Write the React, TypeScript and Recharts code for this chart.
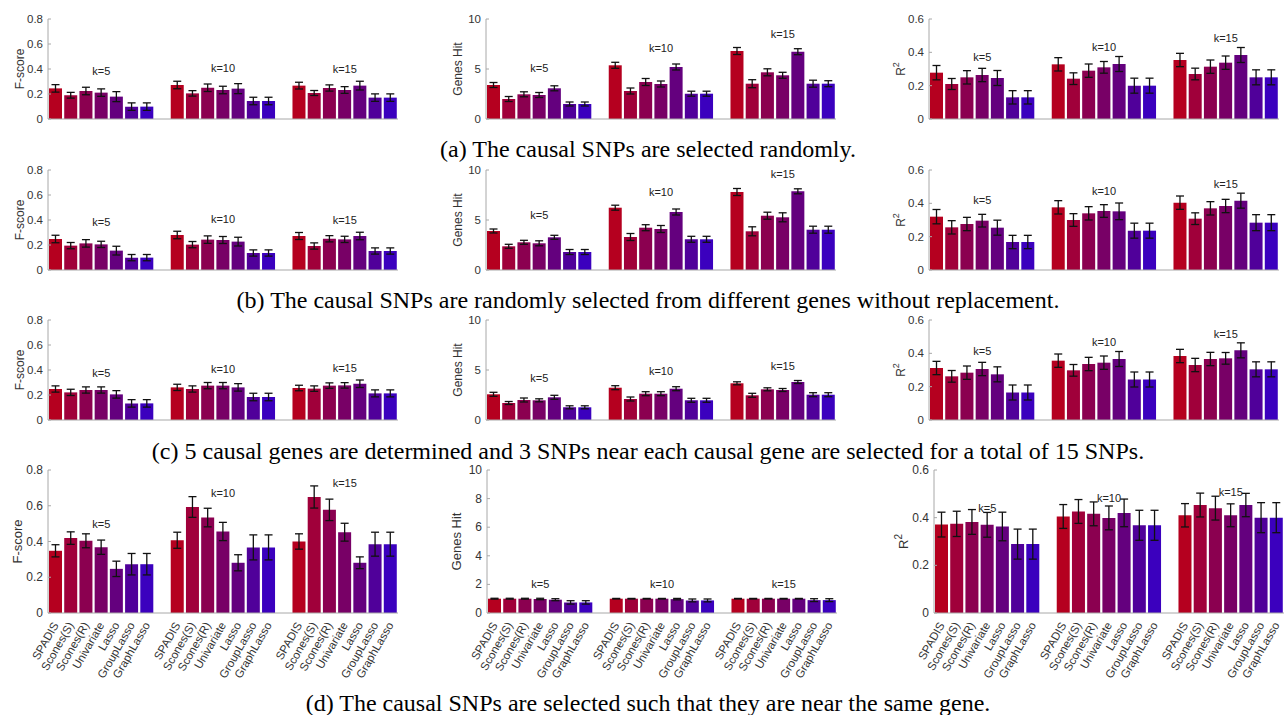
import React from 'react'
import { BarChart, Bar, XAxis, YAxis, ErrorBar, Cell, ReferenceDot } from 'recharts'

const methods = ['SPADIS', 'Scones(S)', 'Scones(R)', 'Univariate', 'Lasso', 'GroupLasso', 'GraphLasso']
const groups = ['k=5', 'k=10', 'k=15']
const COLORS = ['#b5001f', '#a0003a', '#8b0050', '#780066', '#64007e', '#50009a', '#3b00be']

const fTicks = [0, 0.2, 0.4, 0.6, 0.8]
const gTicks = [0, 5, 10]
const gTicksD = [0, 2, 4, 6, 8, 10]
const rTicks = [0, 0.2, 0.4, 0.6]

// (a) random SNPs
const fA = [[0.245, 0.19, 0.224, 0.211, 0.179, 0.099, 0.099], [0.272, 0.205, 0.25, 0.232, 0.243, 0.144, 0.144], [0.267, 0.208, 0.248, 0.232, 0.267, 0.171, 0.171]]
const fAErr = [[0.03, 0.023, 0.03, 0.03, 0.04, 0.03, 0.03], [0.03, 0.022, 0.03, 0.03, 0.04, 0.03, 0.03], [0.027, 0.02, 0.025, 0.027, 0.035, 0.03, 0.03]]
const fAK = [0.38, 0.405, 0.4]
const gA = [[3.4, 2.0, 2.47, 2.4, 3.07, 1.5, 1.5], [5.37, 2.8, 3.7, 3.5, 5.2, 2.53, 2.53], [6.8, 3.53, 4.67, 4.37, 6.73, 3.53, 3.53]]
const gAErr = [[0.25, 0.25, 0.25, 0.25, 0.25, 0.2, 0.2], [0.3, 0.3, 0.35, 0.3, 0.3, 0.25, 0.25], [0.35, 0.4, 0.35, 0.3, 0.3, 0.35, 0.3]]
const gAK = [5.07, 7.07, 8.5]
const rA = [[0.278, 0.21, 0.25, 0.264, 0.246, 0.13, 0.13], [0.328, 0.242, 0.29, 0.31, 0.33, 0.2, 0.2], [0.354, 0.27, 0.314, 0.338, 0.384, 0.25, 0.25]]
const rAErr = [[0.043, 0.033, 0.04, 0.04, 0.045, 0.04, 0.04], [0.04, 0.035, 0.04, 0.035, 0.045, 0.045, 0.045], [0.04, 0.035, 0.04, 0.04, 0.045, 0.045, 0.045]]
const rAK = [0.374, 0.43, 0.484]

// (b) different genes
const fB = [[0.248, 0.195, 0.213, 0.205, 0.155, 0.099, 0.099], [0.28, 0.203, 0.243, 0.24, 0.227, 0.136, 0.136], [0.272, 0.192, 0.25, 0.245, 0.272, 0.152, 0.152]]
const fBErr = [[0.03, 0.025, 0.03, 0.025, 0.035, 0.025, 0.025], [0.03, 0.025, 0.03, 0.028, 0.035, 0.025, 0.025], [0.028, 0.025, 0.025, 0.025, 0.03, 0.025, 0.025]]
const fBK = [0.38, 0.408, 0.4]
const gB = [[3.9, 2.37, 2.77, 2.67, 3.27, 1.8, 1.8], [6.23, 3.3, 4.23, 4.1, 5.8, 3.07, 3.07], [7.8, 3.87, 5.43, 5.27, 7.87, 4.03, 4.03]]
const gBErr = [[0.2, 0.2, 0.2, 0.25, 0.2, 0.25, 0.25], [0.25, 0.35, 0.3, 0.35, 0.3, 0.3, 0.3], [0.35, 0.45, 0.35, 0.45, 0.25, 0.35, 0.35]]
const gBK = [5.5, 7.83, 9.57]
const rB = [[0.32, 0.256, 0.276, 0.296, 0.254, 0.168, 0.168], [0.376, 0.3, 0.34, 0.354, 0.352, 0.236, 0.236], [0.404, 0.308, 0.37, 0.384, 0.416, 0.284, 0.284]]
const rBErr = [[0.043, 0.04, 0.04, 0.038, 0.045, 0.04, 0.04], [0.04, 0.038, 0.04, 0.038, 0.05, 0.045, 0.045], [0.04, 0.035, 0.04, 0.04, 0.045, 0.048, 0.048]]
const rBK = [0.418, 0.474, 0.516]

// (c) 5 causal genes x 3 SNPs
const fC = [[0.248, 0.221, 0.24, 0.24, 0.205, 0.133, 0.133], [0.261, 0.248, 0.275, 0.275, 0.261, 0.184, 0.184], [0.256, 0.251, 0.275, 0.277, 0.29, 0.213, 0.213]]
const fCErr = [[0.025, 0.025, 0.025, 0.025, 0.03, 0.03, 0.03], [0.025, 0.025, 0.025, 0.025, 0.03, 0.03, 0.03], [0.022, 0.022, 0.022, 0.022, 0.03, 0.028, 0.028]]
const fCK = [0.373, 0.405, 0.419]
const gC = [[2.57, 1.7, 2.0, 1.97, 2.27, 1.27, 1.27], [3.23, 2.1, 2.63, 2.63, 3.13, 1.97, 1.97], [3.67, 2.47, 3.07, 3.0, 3.8, 2.53, 2.53]]
const gCErr = [[0.2, 0.15, 0.2, 0.15, 0.2, 0.15, 0.15], [0.2, 0.2, 0.2, 0.2, 0.2, 0.2, 0.2], [0.15, 0.2, 0.15, 0.15, 0.15, 0.2, 0.2]]
const gCK = [4.17, 4.9, 5.4]
const rC = [[0.312, 0.262, 0.284, 0.306, 0.274, 0.165, 0.165], [0.356, 0.298, 0.336, 0.344, 0.366, 0.243, 0.243], [0.384, 0.33, 0.366, 0.37, 0.418, 0.304, 0.304]]
const rCErr = [[0.04, 0.035, 0.04, 0.04, 0.045, 0.045, 0.045], [0.04, 0.035, 0.04, 0.04, 0.045, 0.045, 0.045], [0.04, 0.04, 0.04, 0.035, 0.045, 0.045, 0.045]]
const rCK = [0.411, 0.467, 0.517]

// (d) SNPs near the same gene
const fD = [[0.348, 0.419, 0.404, 0.368, 0.247, 0.273, 0.273], [0.407, 0.593, 0.534, 0.456, 0.281, 0.367, 0.367], [0.4, 0.649, 0.577, 0.452, 0.281, 0.385, 0.385]]
const fDErr = [[0.034, 0.035, 0.039, 0.04, 0.043, 0.06, 0.06], [0.045, 0.058, 0.052, 0.051, 0.045, 0.07, 0.07], [0.043, 0.062, 0.06, 0.05, 0.033, 0.067, 0.067]]
const fDK = [0.497, 0.67, 0.726]
const gD = [[1.0, 1.0, 1.0, 0.98, 0.93, 0.74, 0.74], [1.0, 1.0, 1.0, 1.0, 0.97, 0.88, 0.88], [1.0, 1.0, 1.0, 1.0, 1.0, 0.9, 0.9]]
const gDErr = [[0.03, 0.03, 0.03, 0.05, 0.07, 0.12, 0.12], [0.02, 0.02, 0.02, 0.02, 0.05, 0.1, 0.1], [0.02, 0.02, 0.02, 0.02, 0.02, 0.1, 0.1]]
const gDK = [2, 2, 2]
const rD = [[0.371, 0.374, 0.382, 0.37, 0.363, 0.289, 0.289], [0.405, 0.426, 0.416, 0.399, 0.42, 0.368, 0.368], [0.41, 0.453, 0.44, 0.41, 0.453, 0.4, 0.4]]
const rDErr = [[0.052, 0.053, 0.052, 0.052, 0.06, 0.063, 0.063], [0.05, 0.05, 0.05, 0.05, 0.058, 0.063, 0.063], [0.049, 0.05, 0.05, 0.048, 0.049, 0.063, 0.063]]
const rDK = [0.44, 0.484, 0.509]

const captions = [
  '(a) The causal SNPs are selected randomly.',
  '(b) The causal SNPs are randomly selected from different genes without replacement.',
  '(c) 5 causal genes are determined and 3 SNPs near each causal gene are selected for a total of 15 SNPs.',
  '(d) The causal SNPs are selected such that they are near the same gene.',
]

const SANS = '"Liberation Sans", Arial, sans-serif'
const TXT = '#333'
const AXIS = '#a8a8a8'
const YW = 48
const MT = 6
const PW = 350

// one row per bar, plus an empty row between k groups
function buildRows(vals: number[][], errs: number[][]) {
  const rows: any[] = []
  groups.forEach((_, g) => {
    methods.forEach((m, i) => {
      rows.push({ id: `${g}-${i}`, name: m, v: vals[g][i], e: errs[g][i], ci: i })
    })
    if (g < groups.length - 1) rows.push({ id: `gap${g}`, name: '', v: null, e: null, ci: -1 })
  })
  return rows
}

const YTick = ({ x, y, payload, fs }: any) => (
  <g>
    <line x1={x + 5} x2={x + 8} y1={y} y2={y} stroke={AXIS} />
    <text x={x} y={y} textAnchor="end" dominantBaseline="central" fontSize={fs} fill={TXT} fontFamily={SANS}>
      {String(payload.value)}
    </text>
  </g>
)

const NameTick = ({ x, y, payload, names }: any) => {
  const label = names[payload.value] || ''
  const ty = y + 8
  return (
    <text x={x} y={ty} transform={`rotate(-60, ${x}, ${ty})`} textAnchor="end" dominantBaseline="central" fontSize={11.5} fill={TXT} fontFamily={SANS}>
      {label}
    </text>
  )
}

const YLabel = ({ viewBox, text, dist, fs }: any) => {
  const x = viewBox.x + viewBox.width - dist
  const y = viewBox.y + viewBox.height / 2
  return (
    <text x={x} y={y} transform={`rotate(-90, ${x}, ${y})`} textAnchor="middle" dominantBaseline="central" fontSize={fs} fill={TXT} fontFamily={SANS}>
      {text === 'R2' ? (
        <>
          <tspan>R</tspan>
          <tspan dy={-5} fontSize={fs - 3}>2</tspan>
        </>
      ) : text}
    </text>
  )
}

function Panel({ vals, errs, kY, yMax, ticks, label, axisX, top, plotH, showNames, big }: any) {
  const rows = buildRows(vals, errs)
  const names: Record<string, string> = {}
  rows.forEach(r => { names[r.id] = r.name })
  const xh = showNames ? 72 : 10
  const fs = big ? 12 : 11.5
  return (
    <div style={{ position: 'absolute', left: axisX - YW, top: top - MT }}>
      <BarChart width={YW + PW + 6} height={MT + plotH + xh} data={rows} margin={{ top: MT, right: 6, bottom: 0, left: 0 }} barCategoryGap={1}>
        <XAxis
          dataKey="id"
          interval={0}
          height={xh}
          axisLine={{ stroke: AXIS }}
          tickLine={false}
          tickSize={0}
          tick={showNames ? <NameTick names={names} /> : false}
        />
        <YAxis
          type="number"
          domain={[0, yMax]}
          ticks={ticks}
          interval={0}
          width={YW}
          axisLine={{ stroke: AXIS }}
          tickLine={false}
          tickSize={0}
          tickMargin={5}
          tick={<YTick fs={fs} />}
          label={{ content: (p: any) => <YLabel {...p} text={label} dist={big ? 31 : 28} fs={big ? 13 : 12} /> }}
        />
        <Bar dataKey="v" isAnimationActive={false}>
          {rows.map(r => (
            <Cell key={r.id} fill={r.ci >= 0 ? COLORS[r.ci] : 'none'} />
          ))}
          <ErrorBar dataKey="e" width={4} stroke="#111" strokeWidth={1.3} direction="y" />
        </Bar>
        {groups.map((k, g) => (
          <ReferenceDot
            key={k}
            x={`${g}-3`}
            y={kY[g]}
            r={0}
            fill="none"
            stroke="none"
            label={{ value: k, position: 'center', fontSize: 11, fill: '#222', fontFamily: SANS }}
          />
        ))}
      </BarChart>
    </div>
  )
}

const rowTops = [19, 170, 320, 470]
const rowH = [100, 100, 100, 143]
const captionY = [149, 300, 451, 703]

export default function App() {
  const cols = [48, 486, 929]
  const colsD = [48, 487, 934]
  const panels = [
    [[fA, fAErr, fAK], [gA, gAErr, gAK], [rA, rAErr, rAK]],
    [[fB, fBErr, fBK], [gB, gBErr, gBK], [rB, rBErr, rBK]],
    [[fC, fCErr, fCK], [gC, gCErr, gCK], [rC, rCErr, rCK]],
    [[fD, fDErr, fDK], [gD, gDErr, gDK], [rD, rDErr, rDK]],
  ]
  const yMax = [0.8, 10, 0.6]
  const labels = ['F-score', 'Genes Hit', 'R2']
  return (
    <div style={{ position: 'absolute', left: 0, top: 0, width: 1284, height: 715, background: '#fff', overflow: 'hidden' }}>
      {panels.map((row, r) =>
        row.map(([vals, errs, kY], c) => {
          const d = r === 3
          const ticks = c === 0 ? fTicks : c === 2 ? rTicks : d ? gTicksD : gTicks
          return (
            <Panel
              key={`${r}-${c}`}
              vals={vals}
              errs={errs}
              kY={kY}
              yMax={yMax[c]}
              ticks={ticks}
              label={labels[c]}
              axisX={d ? colsD[c] : cols[c]}
              top={rowTops[r]}
              plotH={rowH[r]}
              showNames={d}
              big={d}
            />
          )
        })
      )}
      {captions.map((t, i) => (
        <div
          key={i}
          style={{
            position: 'absolute',
            left: 0,
            width: 1296,
            top: captionY[i] - 12,
            textAlign: 'center',
            fontFamily: '"Liberation Serif", "Times New Roman", serif',
            fontSize: 24,
            lineHeight: '24px',
            whiteSpace: 'nowrap',
            color: '#000',
          }}
        >
          {t}
        </div>
      ))}
    </div>
  )
}
